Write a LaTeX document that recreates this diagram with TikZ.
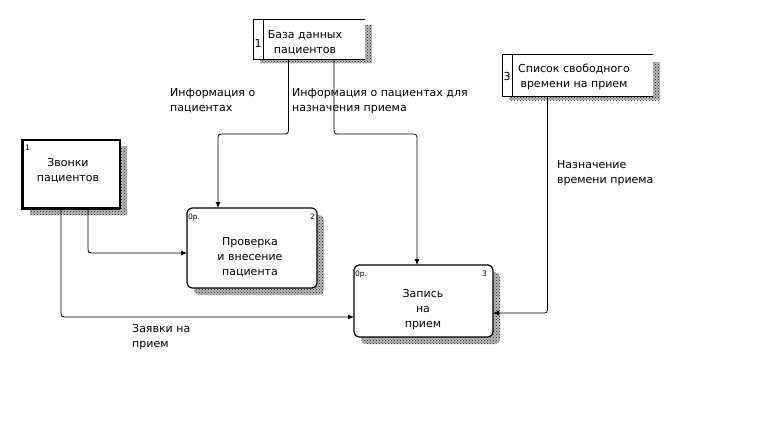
\documentclass[tikz,border=0pt]{standalone}
\usepackage{fontspec}
\setmainfont{DejaVu Sans}
\usetikzlibrary{arrows.meta,patterns}
\newcommand{\fs}{\rule{0pt}{9pt}}
\begin{document}
\begin{tikzpicture}[x=1pt,y=-1pt,
  box/.style={inner sep=0pt, outer sep=0pt},
  shadow/.style={fill=black!28, postaction={pattern=crosshatch dots, pattern color=black!85}},
  txt/.style={inner sep=0pt, font=\fontsize{11}{15}\selectfont, align=center, anchor=north},
  lbl/.style={inner sep=0pt, font=\fontsize{11}{15}\selectfont, align=left, anchor=north west},
  tiny/.style={inner sep=0pt, font=\fontsize{7.5}{8}\selectfont},
  outline/.style={line width=0.9pt},
  proc/.style={box, draw, fill=white, line width=1.2pt, rounded corners=5pt},
  flow/.style={line width=0.8pt, rounded corners=3pt, -{Latex[length=6pt,width=5pt]}}
]
\useasboundingbox[fill=white] (0,0) rectangle (770,426);

% shadows
\path[shadow] (260,25) rectangle (372,63);
\path[shadow] (509,62) rectangle (660,100);
\path[shadow] (30,146) rectangle (127,215);
\path[shadow,rounded corners=5pt] (194,215) rectangle (324,295);
\path[shadow,rounded corners=5pt] (361,272) rectangle (500,344);

% data store 1
\node[box, fill=white, minimum width=112pt, minimum height=40pt] (store1) at (309,39) {};
\draw[outline] (store1.north east) -- (store1.north west) -- (store1.south west) -- (store1.south east);
\draw[outline] ([xshift=10pt]store1.north west) -- ([xshift=10pt]store1.south west);
\node[inner sep=0pt, font=\fontsize{11}{15}\selectfont, anchor=base] (n1) at (258,47) {1};
\node[txt] (t1) at (305,29) {\fs База данных\\пациентов};

% data store 3
\node[box, fill=white, minimum width=151pt, minimum height=42pt] (store3) at (577.5,75) {};
\draw[outline] (store3.north east) -- (store3.north west) -- (store3.south west) -- (store3.south east);
\draw[outline] ([xshift=10pt]store3.north west) -- ([xshift=10pt]store3.south west);
\node[inner sep=0pt, font=\fontsize{11}{15}\selectfont, anchor=base] (n3) at (507,80) {3};
\node[txt] (t3) at (574,63) {\fs Список свободного\\времени на прием};

% external entity
\node[box, draw, fill=white, line width=1.8pt, minimum width=98pt, minimum height=68pt] (ent) at (71,174) {};
\draw[line width=3pt] (ent.north west) -- (ent.south west) -- (ent.south east);
\node[tiny, anchor=base west] (ne) at (25,150) {1};
\node[txt] (te) at (68,157) {\fs Звонки\\пациентов};

% processes
\node[proc, minimum width=130pt, minimum height=80pt] (p2) at (252,248) {};
\node[tiny, anchor=base west] (op2) at (188,219) {0р.};
\node[tiny, anchor=base east] (np2) at (315,219) {2};
\node[txt] (tp2) at (250,236) {\fs Проверка\\и внесение\\пациента};

\node[proc, minimum width=139pt, minimum height=72pt] (p3) at (423.5,301) {};
\node[tiny, anchor=base west] (op3) at (355,276) {0р.};
\node[tiny, anchor=base east] (np3) at (487,276) {3};
\node[txt] (tp3) at (423,288) {\fs Запись\\на\\прием};

% connectors
\draw[flow] ([xshift=-20.5pt]store1.south) -- ++(0,75) -| ([xshift=-34pt]p2.north);
\draw[flow] ([xshift=25pt]store1.south) -- ++(0,75) -| ([xshift=-6.5pt]p3.north);
\draw[flow] ([xshift=-30pt]store3.south) |- ([yshift=-12pt]p3.east);
\draw[flow] ([xshift=17pt]ent.south) |- ([yshift=-5pt]p2.west);
\draw[flow] ([xshift=-10pt]ent.south) |- ([yshift=-16pt]p3.west);

% labels
\node[lbl] (l1) at (170,87) {\fs Информация о\\пациентах};
\node[lbl] (l2) at (292,87) {\fs Информация о пациентах для\\назначения приема};
\node[lbl] (l3) at (557,159) {\fs Назначение\\времени приема};
\node[lbl] (l4) at (132,323) {\fs Заявки на\\прием};
\end{tikzpicture}
\end{document}
